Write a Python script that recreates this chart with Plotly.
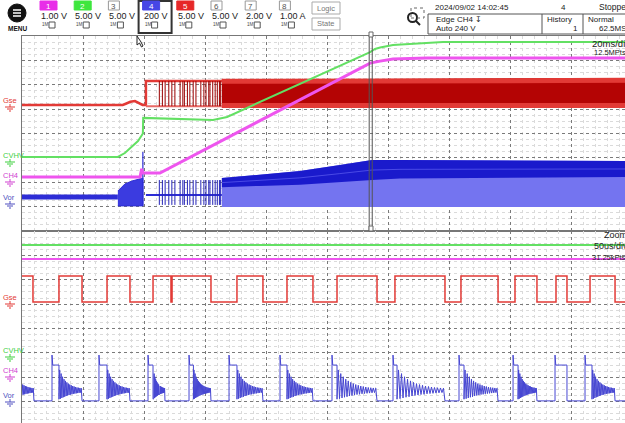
import plotly.graph_objects as go

W, H = 625, 423

# ================= main window: time in ms (20 ms/div), level in divisions =================
t_min, t_max = -38.03, 159.67
green_main_t = [-38.03, -6.6, -4.3, -2.0, 0.0, 1.3, 1.6, 1.7, 24.6, 29.2, 76.1, 77.7, 79.4, 83.6, 89.2, 100.0, 159.67]
green_main_y = [3.04, 3.04, 3.20, 3.45, 3.69, 3.94, 4.00, 4.64, 4.55, 4.68, 7.34, 7.47, 7.53, 7.63, 7.67, 7.75, 7.75]
magenta_main_t = [-38.03, 0.7, 1.2, 1.6, 7.2, 76.1, 79.4, 83.6, 94.8, 159.67]
magenta_main_y = [2.22, 2.22, 2.55, 2.38, 2.38, 6.89, 6.97, 7.06, 7.10, 7.10]
red_pre_t = [-38.03, -5.0, -4.0, -2.5, -1.0, 0.5, 1.5, 2.6, 2.6, 159.67]
red_pre_y = [5.17, 5.17, 5.22, 5.30, 5.33, 5.25, 5.17, 5.17, 6.15, 6.15]
red_idle_t = [2.6, 27.5]
red_idle_low, red_idle_high = 5.12, 6.15
burst_t = [7.0, 8.0, 8.9, 10.1, 11.1, 12.1, 13.8, 14.7, 15.2, 16.2, 17.0, 18.1, 19.0,
           20.6, 21.6, 22.3, 23.2, 23.6, 24.5, 25.3, 26.0, 26.7, 27.1]
red_band_t = [27.5, 76.7, 159.67]
red_band_top = [6.24, 6.24, 6.28]
red_band_bot = [5.05, 5.05, 5.05]
blue_pre_t = [-38.03, -6.6]
blue_pre_y = [1.39, 1.39]
blue_blob_t = [-6.6, -4.3, -2.0, 1.6]
blue_blob_top = [1.64, 1.93, 2.05, 2.17]
blue_blob_bot = 1.03
blue_trig_t, blue_trig_peak = 1.6, 3.24
blue_idle_t = [2.6, 27.5]
blue_idle_y = 1.48
blue_burst_top, blue_burst_bot = 2.09, 1.07
blue_band_t = [27.5, 39.9, 53.1, 66.2, 76.7, 85.9, 159.67]
blue_band_top = [2.17, 2.30, 2.46, 2.71, 2.91, 2.91, 2.87]
blue_band_mid = [1.80, 1.85, 1.90, 2.00, 2.09, 2.15, 2.22]
blue_band_bot = 0.98
zoom_box_t = [75.8, 76.8]

# ================= zoom window: time in us (50 us/div), level in divisions =================
zt_max = 494.26
green_zoom_y = 7.43
magenta_zoom_y = 6.85
red_zoom_edges = [9.0, 30.3, 49.2, 69.7, 88.5, 107.4, 122.1, 123.0, 154.9, 176.2, 197.5, 217.2,
                  238.5, 258.2, 291.0, 305.7, 346.7, 359.8, 390.2, 404.1, 422.1, 437.7, 446.7,
                  465.6, 486.1]
red_zoom_high, red_zoom_low = 6.15, 5.09
blue_pulse = [24.6, 63.1, 103.3, 136.9, 169.7, 211.5, 254.1, 304.1, 358.2, 402.5, 436.9, 461.5]
blue_ring_start = [30.3, 69.7, 107.4, 140.5, 176.2, 217.2, 258.2, 307.4, 362.3, 406.6, 446.7, 467.2]
blue_ring_end = [49.2, 88.5, 117.2, 154.9, 197.5, 238.5, 291.0, 346.7, 390.2, 422.1, 446.7, 486.1]
blue_pre_ring_end = 9.8
blue_low, blue_peak, blue_flat = 1.03, 2.91, 2.50
ring_levels = [1.10, 2.30, 1.12, 2.15, 1.15, 2.02, 1.18, 1.92, 1.20, 1.85, 1.23, 1.79,
               1.25, 1.74, 1.27, 1.70, 1.29, 1.67, 1.30, 1.64, 1.32, 1.62, 1.33, 1.60,
               1.34, 1.58, 1.35, 1.57, 1.36, 1.56, 1.37, 1.55]

C_RED, C_RED_D, C_RED_F = "#e23a36", "#9a0000", "#b40404"
C_GRN, C_MAG = "#63e063", "#ee55ee"
C_BLU, C_BLU_D, C_BLU_L = "#2d2dd6", "#1a1acc", "#7474f0"

fig = go.Figure()


def add(x, y, color, width, xa="x", ya="y", fill=None, fillcolor=None):
    fig.add_trace(go.Scatter(x=x, y=y, mode="lines", xaxis=xa, yaxis=ya,
                             line=dict(color=color, width=width), fill=fill,
                             fillcolor=fillcolor, hoverinfo="skip", showlegend=False))


def spikes(ts, lo, hi):
    xs, ys = [], []
    for t in ts:
        xs += [t, t, None]
        ys += [lo, hi, None]
    return xs, ys


# ---- main window: red ----
add(red_band_t + red_band_t[::-1], red_band_top + red_band_bot[::-1], C_RED_F, 0,
    fill="toself", fillcolor=C_RED_F)
add(red_band_t, [v - 0.1 for v in red_band_top], C_RED, 5)
add(red_band_t, [v + 0.1 for v in red_band_bot], C_RED, 5)
add(red_pre_t, red_pre_y, C_RED, 2.5)
add(red_idle_t, [red_idle_low] * 2, "#e86a66", 2)
sx, sy = spikes(burst_t, red_idle_low, red_idle_high)
add(sx, sy, C_RED_D, 1)

# ---- main window: blue ----
add(blue_pre_t, blue_pre_y, C_BLU, 5)
add(blue_blob_t + blue_blob_t[::-1], blue_blob_top + [blue_blob_bot] * len(blue_blob_t),
    C_BLU, 1, fill="toself", fillcolor="#3b3be0")
add([blue_trig_t, blue_trig_t], [blue_blob_bot, blue_trig_peak], C_BLU, 1.2)
add(blue_idle_t, [blue_idle_y] * 2, C_BLU, 2)
sx, sy = spikes(burst_t, blue_burst_bot, blue_burst_top)
add(sx, sy, "#2525b8", 1)
add(blue_band_t + blue_band_t[::-1], blue_band_top + [blue_band_bot] * len(blue_band_t),
    C_BLU_L, 0, fill="toself", fillcolor=C_BLU_L)
add(blue_band_t + blue_band_t[::-1], blue_band_top + blue_band_mid[::-1],
    C_BLU_D, 0, fill="toself", fillcolor=C_BLU_D)
add(blue_band_t, [(a + b) / 2 for a, b in zip(blue_band_top, blue_band_mid)], "#4a4ae6", 1)

# ---- main window: green and magenta ----
add(green_main_t, green_main_y, C_GRN, 2)
add(magenta_main_t, magenta_main_y, C_MAG, 3)

# ---- zoom window ----
add([0, zt_max], [green_zoom_y] * 2, C_GRN, 2, "x2", "y2")
add([0, zt_max], [magenta_zoom_y] * 2, C_MAG, 2, "x2", "y2")
rx, ry = [0], [red_zoom_high]
level = True
for e in red_zoom_edges:
    cur = red_zoom_high if level else red_zoom_low
    level = not level
    nxt = red_zoom_high if level else red_zoom_low
    rx += [e, e]
    ry += [cur, nxt]
rx.append(zt_max)
ry.append(red_zoom_high if level else red_zoom_low)
add(rx, ry, C_RED, 1.5, "x2", "y2")

bx, by = [], []
tail = ring_levels[14:]
for i, v in enumerate(tail):
    bx.append(blue_pre_ring_end * i / len(tail))
    by.append(v)
bx.append(blue_pre_ring_end)
by.append(blue_low)
for p, rs, re in zip(blue_pulse, blue_ring_start, blue_ring_end):
    bx += [p, p, p + 0.6, rs]
    by += [blue_low, blue_peak, blue_flat, blue_flat]
    if re > rs:
        n = len(ring_levels)
        for i, v in enumerate(ring_levels):
            bx.append(rs + (re - rs) * i / n)
            by.append(v)
    bx.append(re)
    by.append(blue_low)
bx.append(zt_max)
by.append(blue_low)
add(bx, by, "#4646d2", 1.0, "x2", "y2")

# ---------------- axes / grid ----------------
x0p = 22 / W
dom_top = [(H - 231) / H, (H - 36) / H]
dom_bot = [0, (H - 231) / H]
common = dict(showticklabels=False, ticks="", zeroline=False, showgrid=True,
              gridcolor="#7a7a7a", griddash="dot", gridwidth=1, layer="below traces")
fig.update_layout(
    width=W, height=H, margin=dict(l=0, r=0, t=0, b=0),
    paper_bgcolor="white", plot_bgcolor="white", showlegend=False,
    xaxis=dict(domain=[x0p, 1], range=[t_min, t_max], tick0=t_min, dtick=20,
               minor=dict(dtick=4, tick0=t_min, showgrid=True, gridcolor="#dadada", gridwidth=1),
               showline=True, mirror=True, linecolor="#777", anchor="y", **common),
    yaxis=dict(domain=dom_top, range=[0, 8], tick0=0, dtick=1,
               minor=dict(dtick=0.25, showgrid=True, gridcolor="#dadada", gridwidth=1),
               showline=True, linecolor="#777", anchor="x", **common),
    xaxis2=dict(domain=[x0p, 1], range=[0, zt_max], tick0=0, dtick=50,
                minor=dict(dtick=10, tick0=0, showgrid=True, gridcolor="#dadada", gridwidth=1),
                showline=True, side="top", linecolor="#777", anchor="y2", **common),
    yaxis2=dict(domain=dom_bot, range=[0.123, 8], tick0=0, dtick=1,
                minor=dict(dtick=0.25, showgrid=True, gridcolor="#dadada", gridwidth=1),
                showline=True, linecolor="#777", anchor="x2", **common),
)

# zoom-position marker in main window
fig.add_shape(type="rect", xref="x", yref="y", x0=zoom_box_t[0], x1=zoom_box_t[1], y0=0, y1=8,
              line=dict(color="#555", width=1))

# ---------------- decorations (pixel helpers) ----------------
def px(x):
    return x / W


def py(y):
    return 1 - y / H


FONT = "Liberation Sans Narrow, Liberation Sans, Arial"


def text(x, y, s, size=8, color="#222", anchor="left", bold=False):
    fig.add_annotation(xref="paper", yref="paper", x=px(x), y=py(y), text=("<b>%s</b>" % s) if bold else s,
                       showarrow=False, xanchor=anchor, yanchor="middle",
                       font=dict(family=FONT, size=size, color=color))


def rect(x0, y0, x1, y1, line="#999", width=1, fill=None, dash=None):
    fig.add_shape(type="rect", xref="paper", yref="paper", x0=px(x0), x1=px(x1), y0=py(y1), y1=py(y0),
                  line=dict(color=line, width=width, dash=dash), fillcolor=fill)


def line(x0, y0, x1, y1, color="#000", width=1):
    fig.add_shape(type="line", xref="paper", yref="paper", x0=px(x0), x1=px(x1), y0=py(y0), y1=py(y1),
                  line=dict(color=color, width=width))


def ground(cx, cy, color):
    line(cx, cy - 3, cx, cy, color, 1)
    line(cx - 5, cy, cx + 5, cy, color, 1)
    line(cx - 3, cy + 2, cx + 3, cy + 2, color, 1)
    line(cx - 1, cy + 4, cx + 1, cy + 4, color, 1)


# channel labels
labels = [("Gse", 100, C_RED), ("CVHV", 155, "#3fcf3f"), ("CH4", 175, "#d040d0"), ("Vor", 197, "#5050c0"),
          ("Gse", 297, C_RED), ("CVHV", 350, "#3fcf3f"), ("CH4", 370, "#d040d0"), ("Vor", 395, "#5050c0")]
for s, yy, c in labels:
    text(1, yy, s, 7.5, c)
    ground(10, yy + 7, c)

# header: MENU
fig.add_shape(type="circle", xref="paper", yref="paper", x0=px(8), x1=px(26), y0=py(22), y1=py(4),
              fillcolor="#111", line=dict(color="#111", width=1))
for yy in (10, 13, 16):
    line(13, yy, 21, yy, "white", 1.5)
text(17, 29, "MENU", 6.5, "#111", "center", True)

chans = [("1", "#e82ee8", "1.00 V"), ("2", "#3ee63e", "5.00 V"), ("3", None, "5.00 V"),
         ("4", "#4646e6", "200 V"), ("5", "#e62828", "5.00 V"), ("6", None, "5.00 V"),
         ("7", None, "2.00 V"), ("8", None, "1.00 A")]
for i, (n, col, val) in enumerate(chans):
    x0 = 37 + 34.2 * i
    if n == "4":
        rect(x0 - 1, 1, x0 + 32, 33, "#333", 2)
    if col:
        rect(x0 + 3, 1, x0 + 20, 10, col, 1, col)
        text(x0 + 11.5, 6, n, 8, "white", "center")
    else:
        rect(x0 + 3, 1, x0 + 14, 10, "#999", 1, "white")
        text(x0 + 8.5, 6, n, 8, "#555", "center")
    text(x0 + 2, 16, val, 9, "#222")
    text(x0 + 3, 25, "1M", 4.5, "#444")
    rect(x0 + 12, 22, x0 + 18, 28, "#555", 1)

rect(312, 2, 340, 14, "#aaa", 1)
text(326, 8, "Logic", 7.5, "#777", "center")
rect(312, 18, 340, 30, "#aaa", 1)
text(326, 24, "State", 7.5, "#777", "center")

# zoom icon
fig.add_shape(type="circle", xref="paper", yref="paper", x0=px(408), x1=px(417), y0=py(22), y1=py(13),
              line=dict(color="#222", width=2))
line(416, 21, 420, 25, "#222", 2)
rect(411, 8, 424, 18, "#666", 1, None, "dot")

text(433, 7, "2024/09/02 14:02:45", 8, "#222")
text(563, 7, "4", 8, "#222", "center")
text(597, 7, "Stopped", 8.5, "#222")
rect(428, 14, 630, 34, "#555", 1)
line(542, 14, 542, 34, "#555", 1)
line(583, 14, 583, 34, "#555", 1)
text(434, 19.5, "Edge CH4 \u21a7", 8, "#222")
text(434, 28.5, "Auto 240 V", 8, "#222")
text(545, 19.5, "History", 8, "#222")
text(580, 28.5, "1", 8, "#222", "right")
text(586, 19.5, "Normal", 8, "#222")
text(597, 28.5, "62.5MS/s", 8, "#222")

# timebase texts
text(590, 43, "20ms/div", 9.5, "#222")
text(592, 53, "12.5MPts", 7.5, "#222")
text(602, 234.5, "Zoom", 9, "#222")
text(592, 245.5, "50us/div", 9, "#222")
text(590, 257.5, "31.25kPts", 7.5, "#222")

# small markers
rect(369, 32, 373, 37, "#666", 1, "white")
rect(369, 226, 373, 231, "#666", 1, "white")
fig.add_shape(type="path", xref="paper", yref="paper",
              path="M %f,%f L %f,%f L %f,%f L %f,%f L %f,%f L %f,%f Z" % (
                  px(137), py(36), px(137), py(45), px(139.5), py(43), px(141.5), py(47),
                  px(143), py(46), px(141), py(42)),
              line=dict(color="#222", width=1), fillcolor="white")

fig.write_html("out.html", config={"displayModeBar": False, "staticPlot": True},
               post_script="document.body.style.margin='0';document.body.style.overflow='hidden';")
